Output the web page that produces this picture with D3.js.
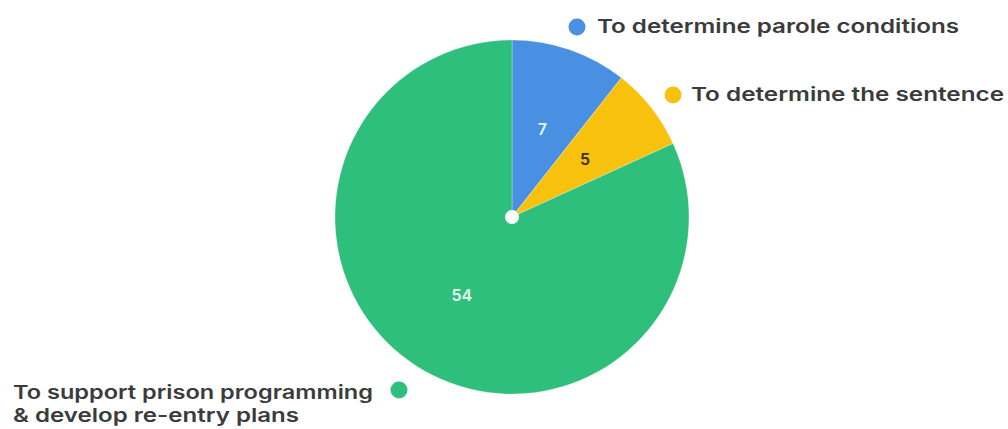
<!DOCTYPE html>
<html>
<head>
<meta charset="utf-8">
<script src="https://cdn.jsdelivr.net/npm/d3@7"></script>
<style>
  html, body { margin: 0; padding: 0; background: #ffffff; }
  svg { display: block; }
  text { font-family: Inter, Lato, "Open Sans", sans-serif; }
</style>
</head>
<body>
<svg id="chart" width="1008" height="429"></svg>
<script>
// Purposes of risk assessment use (count of responses)
const categories = [
  "To determine parole conditions",
  "To determine the sentence",
  "To support prison programming & develop re-entry plans"
];
const values = [7, 5, 54];
const colors = ["#4a90e2", "#f8c10d", "#2ebf7c"];
const valueLabelColors = ["#e9f3ff", "#3a2c05", "#e6f7ee"];

// Legend label lines per category
const legendLines = [
  ["To determine parole conditions"],
  ["To determine the sentence"],
  ["To support prison programming", "& develop re-entry plans"]
];

const svg = d3.select("#chart");
const cx = 512, cy = 217, R = 177;

const pie = d3.pie().sort(null).value(d => d)(values);
const arc = d3.arc().innerRadius(0).outerRadius(R);
const labelArc = d3.arc().innerRadius(R * 0.525).outerRadius(R * 0.525);

const g = svg.append("g").attr("transform", `translate(${cx},${cy})`);

g.selectAll("path.slice")
  .data(pie)
  .join("path")
  .attr("class", "slice")
  .attr("d", arc)
  .attr("fill", (d, i) => colors[i])
  .attr("stroke", "#ffffff")
  .attr("stroke-opacity", 0.35)
  .attr("stroke-width", 0.8);

g.selectAll("text.value")
  .data(pie)
  .join("text")
  .attr("class", "value")
  .attr("transform", d => `translate(${labelArc.centroid(d)})`)
  .attr("text-anchor", "middle")
  .attr("dy", "0.36em")
  .attr("font-size", 16)
  .attr("font-weight", 600)
  .attr("fill", (d, i) => valueLabelColors[i])
  .text(d => d.data);

// hub dot at the centre
g.append("circle").attr("r", 7).attr("fill", "#ffffff");

// Legend entries placed beside their slices
const legendSpec = [
  { dot: [577, 27], textX: 597, baseline: 33, widths: [362] },
  { dot: [673, 95], textX: 691, baseline: 101, widths: [313] },
  { dot: [399, 390], textX: 13, baseline: 399, widths: [360, 286] }
];

legendSpec.forEach((s, i) => {
  svg.append("circle")
    .attr("cx", s.dot[0]).attr("cy", s.dot[1]).attr("r", 8.5)
    .attr("fill", colors[i]);
  legendLines[i].forEach((line, j) => {
    svg.append("text")
      .attr("x", s.textX)
      .attr("y", s.baseline + j * 23)
      .attr("font-size", 19)
      .attr("font-weight", 600)
      .attr("fill", "#3b3b3d")
      .attr("textLength", s.widths[j])
      .attr("lengthAdjust", "spacingAndGlyphs")
      .text(line);
  });
});
</script>
</body>
</html>
